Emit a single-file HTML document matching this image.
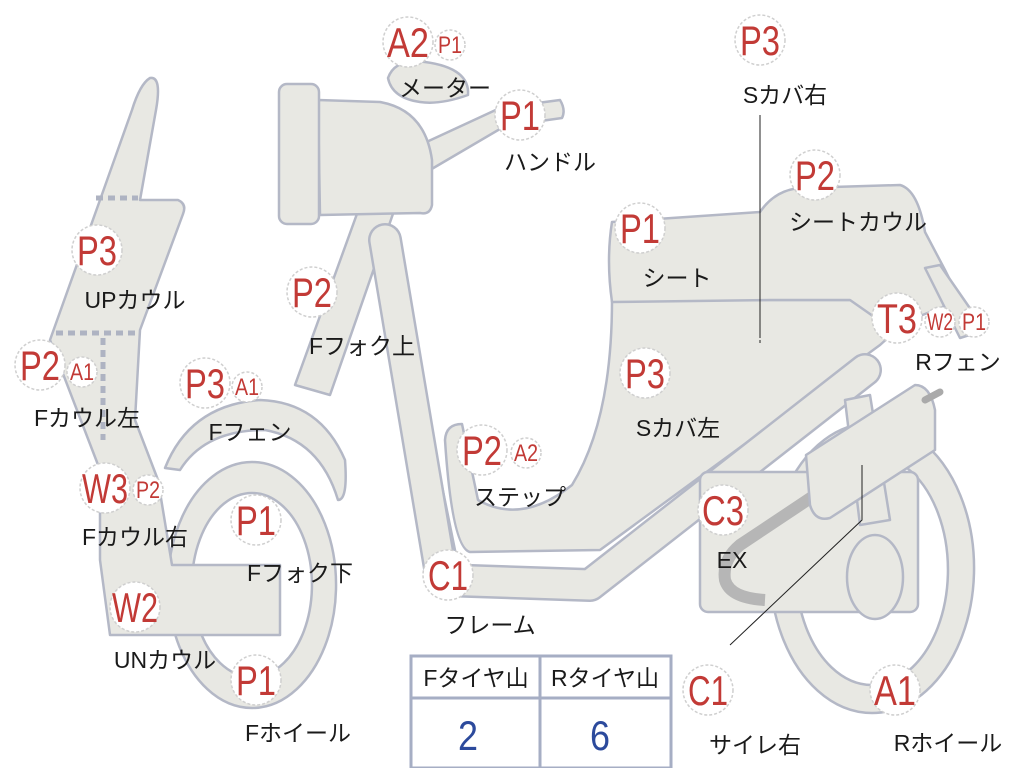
<!DOCTYPE html>
<html><head><meta charset="utf-8"><style>
html,body{margin:0;padding:0;background:#fff;}
svg{display:block}
.s{fill:#e8e8e3;stroke:#b4b8c6;stroke-width:2.5;stroke-linejoin:round}
.c{fill:#fff;stroke:#cfcfcf;stroke-width:1.5;stroke-dasharray:3 2}
.r{fill:#c23a36;font-family:"Liberation Sans",sans-serif;text-anchor:middle}
.j{fill:#1a1a1a;font-family:"Liberation Sans","Noto Sans CJK JP",sans-serif;font-size:23px;text-anchor:middle}
</style></head><body>
<svg width="1024" height="768" viewBox="0 0 1024 768" xmlns="http://www.w3.org/2000/svg">
<path class="s" fill-rule="evenodd" d="M872,423 a102,145 0 1,0 0.1,0 Z M872,455 a76,115 0 1,1 -0.1,0 Z"/>
<path class="s" fill-rule="evenodd" d="M252,462 a84,123 0 1,0 0.1,0 Z M252,493 a60,92 0 1,1 -0.1,0 Z"/>
<path class="s" d="M150,78 Q162,76 156,110 L140,200 L178,200 Q187,204 183,214 L140,330 L135,420 L158,480 L172,565 L280,565 L280,635 L110,635 L100,560 L100,470 L50,340 L100,200 L132,110 Q140,84 150,78 Z"/>
<g stroke="#aeb3c2" stroke-width="5" stroke-dasharray="7 5" fill="none">
<line x1="96" y1="198" x2="138" y2="198"/><line x1="56" y1="333" x2="138" y2="333"/><line x1="103" y1="338" x2="103" y2="440"/></g>
<path class="s" d="M165,468 Q190,405 260,400 Q320,402 345,460 Q348,500 338,500 Q320,440 265,430 Q205,430 180,470 Z"/>
<path class="s" d="M362,200 L395,208 L330,395 L295,385 Z"/>
<path class="s" d="M372,235 L390,230 L458,565 L440,575 Z"/>
<path class="s" d="M420,145 L500,108 L560,100 Q566,110 562,118 L505,126 L430,170 Z"/>
<path class="s" d="M388,78 Q395,58 425,62 Q470,68 468,95 Q440,105 420,102 Q392,98 388,78 Z"/>
<path class="s" d="M318,100 L380,102 Q425,110 432,160 L432,205 Q430,215 420,213 L320,215 Z"/>
<rect class="s" x="279" y="84" width="40" height="140" rx="8"/>
<path class="s" d="M612,300 L930,300 L880,345 L600,550 L470,552 Q452,548 445,440 Q446,424 462,424 L478,500 Q522,525 572,485 Q612,420 612,300 Z"/>
<path class="s" d="M612,222 L760,212 Q775,190 800,188 L900,185 Q918,190 925,232 L945,270 L960,300 L890,328 L850,300 L770,300 L612,302 Q606,260 612,222 Z"/>
<path class="s" d="M925,268 L940,265 L985,330 L960,338 Z"/>
<polyline points="385,240 442,580 590,585 865,370" fill="none" stroke="#b4b8c6" stroke-width="34" stroke-linejoin="round" stroke-linecap="round"/>
<polyline points="385,240 442,580 590,585 865,370" fill="none" stroke="#e8e8e3" stroke-width="29" stroke-linejoin="round" stroke-linecap="round"/>
<rect class="s" x="700" y="472" width="218" height="140" rx="8"/>
<ellipse class="s" cx="875" cy="577" rx="28" ry="42"/>
<path class="s" d="M845,400 L870,395 L890,520 L860,525 Z"/>
<path d="M815,495 L740,545 Q722,560 725,580 Q730,598 765,600" fill="none" stroke="#b6b6b6" stroke-width="12"/>
<path class="s" d="M806,455 L915,385 Q930,385 935,410 L935,450 L830,518 Q815,522 810,505 Z"/>
<line x1="925" y1="400" x2="940" y2="392" stroke="#aaa" stroke-width="7" stroke-linecap="round"/>
<line x1="760" y1="115" x2="760" y2="335" stroke="#222" stroke-width="1"/>
<line x1="760" y1="320" x2="760" y2="345" stroke="#222" stroke-width="1" stroke-dasharray="3 2"/>
<polyline points="862,465 862,520 730,645" fill="none" stroke="#222" stroke-width="1"/>
<rect x="411" y="656" width="260" height="112" fill="#fff" stroke="#a6aec4" stroke-width="3"/>
<line x1="411" y1="698" x2="671" y2="698" stroke="#a6aec4" stroke-width="3"/>
<line x1="540" y1="656" x2="540" y2="768" stroke="#a6aec4" stroke-width="3"/>
<text class="j" x="476" y="686">Fタイヤ山</text>
<text class="j" x="605" y="686">Rタイヤ山</text>
<text x="468" y="750" font-family="Liberation Sans,sans-serif" font-size="42" fill="#2c4a9c" text-anchor="middle" textLength="20" lengthAdjust="spacingAndGlyphs">2</text>
<text x="600" y="750" font-family="Liberation Sans,sans-serif" font-size="42" fill="#2c4a9c" text-anchor="middle" textLength="20" lengthAdjust="spacingAndGlyphs">6</text>
<g>
<circle class="c" cx="408" cy="42" r="25"/><text class="r" font-size="42" x="408" y="57" textLength="42" lengthAdjust="spacingAndGlyphs">A2</text>
<circle class="c" cx="450" cy="45" r="15"/><text class="r" font-size="24" x="450" y="53" textLength="24" lengthAdjust="spacingAndGlyphs">P1</text>
<circle class="c" cx="520" cy="115" r="25"/><text class="r" font-size="42" x="520" y="130" textLength="40" lengthAdjust="spacingAndGlyphs">P1</text>
<circle class="c" cx="760" cy="40" r="25"/><text class="r" font-size="42" x="760" y="55" textLength="40" lengthAdjust="spacingAndGlyphs">P3</text>
<circle class="c" cx="815" cy="175" r="25"/><text class="r" font-size="42" x="815" y="190" textLength="40" lengthAdjust="spacingAndGlyphs">P2</text>
<circle class="c" cx="640" cy="228" r="25"/><text class="r" font-size="42" x="640" y="243" textLength="40" lengthAdjust="spacingAndGlyphs">P1</text>
<circle class="c" cx="897" cy="318" r="25"/><text class="r" font-size="42" x="897" y="333" textLength="40" lengthAdjust="spacingAndGlyphs">T3</text>
<circle class="c" cx="940" cy="322" r="15"/><text class="r" font-size="24" x="940" y="330" textLength="26" lengthAdjust="spacingAndGlyphs">W2</text>
<circle class="c" cx="974" cy="322" r="15"/><text class="r" font-size="24" x="974" y="330" textLength="24" lengthAdjust="spacingAndGlyphs">P1</text>
<circle class="c" cx="97" cy="250" r="25"/><text class="r" font-size="42" x="97" y="265" textLength="40" lengthAdjust="spacingAndGlyphs">P3</text>
<circle class="c" cx="40" cy="365" r="25"/><text class="r" font-size="42" x="40" y="380" textLength="40" lengthAdjust="spacingAndGlyphs">P2</text>
<circle class="c" cx="82" cy="372" r="15"/><text class="r" font-size="24" x="82" y="380" textLength="24" lengthAdjust="spacingAndGlyphs">A1</text>
<circle class="c" cx="205" cy="383" r="25"/><text class="r" font-size="42" x="205" y="398" textLength="40" lengthAdjust="spacingAndGlyphs">P3</text>
<circle class="c" cx="247" cy="387" r="15"/><text class="r" font-size="24" x="247" y="395" textLength="24" lengthAdjust="spacingAndGlyphs">A1</text>
<circle class="c" cx="312" cy="292" r="25"/><text class="r" font-size="42" x="312" y="307" textLength="40" lengthAdjust="spacingAndGlyphs">P2</text>
<circle class="c" cx="645" cy="373" r="25"/><text class="r" font-size="42" x="645" y="388" textLength="40" lengthAdjust="spacingAndGlyphs">P3</text>
<circle class="c" cx="482" cy="450" r="25"/><text class="r" font-size="42" x="482" y="465" textLength="40" lengthAdjust="spacingAndGlyphs">P2</text>
<circle class="c" cx="526" cy="453" r="15"/><text class="r" font-size="24" x="526" y="461" textLength="24" lengthAdjust="spacingAndGlyphs">A2</text>
<circle class="c" cx="105" cy="488" r="25"/><text class="r" font-size="42" x="105" y="503" textLength="46" lengthAdjust="spacingAndGlyphs">W3</text>
<circle class="c" cx="148" cy="490" r="15"/><text class="r" font-size="24" x="148" y="498" textLength="24" lengthAdjust="spacingAndGlyphs">P2</text>
<circle class="c" cx="256" cy="520" r="25"/><text class="r" font-size="42" x="256" y="535" textLength="40" lengthAdjust="spacingAndGlyphs">P1</text>
<circle class="c" cx="723" cy="510" r="25"/><text class="r" font-size="42" x="723" y="525" textLength="42" lengthAdjust="spacingAndGlyphs">C3</text>
<circle class="c" cx="448" cy="575" r="25"/><text class="r" font-size="42" x="448" y="590" textLength="40" lengthAdjust="spacingAndGlyphs">C1</text>
<circle class="c" cx="135" cy="607" r="25"/><text class="r" font-size="42" x="135" y="622" textLength="46" lengthAdjust="spacingAndGlyphs">W2</text>
<circle class="c" cx="256" cy="680" r="25"/><text class="r" font-size="42" x="256" y="695" textLength="40" lengthAdjust="spacingAndGlyphs">P1</text>
<circle class="c" cx="708" cy="690" r="25"/><text class="r" font-size="42" x="708" y="705" textLength="40" lengthAdjust="spacingAndGlyphs">C1</text>
<circle class="c" cx="895" cy="690" r="25"/><text class="r" font-size="42" x="895" y="705" textLength="42" lengthAdjust="spacingAndGlyphs">A1</text>
</g>
<text class="j" x="445" y="96">メーター</text>
<text class="j" x="550" y="170">ハンドル</text>
<text class="j" x="785" y="103">Sカバ右</text>
<text class="j" x="858" y="230">シートカウル</text>
<text class="j" x="677" y="286">シート</text>
<text class="j" x="958" y="370">Rフェン</text>
<text class="j" x="135" y="308">UPカウル</text>
<text class="j" x="87" y="426">Fカウル左</text>
<text class="j" x="250" y="440">Fフェン</text>
<text class="j" x="362" y="354">Fフォク上</text>
<text class="j" x="678" y="436">Sカバ左</text>
<text class="j" x="520" y="505">ステップ</text>
<text class="j" x="135" y="545">Fカウル右</text>
<text class="j" x="300" y="581">Fフォク下</text>
<text class="j" x="732" y="568">EX</text>
<text class="j" x="490" y="633">フレーム</text>
<text class="j" x="165" y="668">UNカウル</text>
<text class="j" x="298" y="741">Fホイール</text>
<text class="j" x="755" y="753">サイレ右</text>
<text class="j" x="948" y="751">Rホイール</text>
</svg>
</body></html>
